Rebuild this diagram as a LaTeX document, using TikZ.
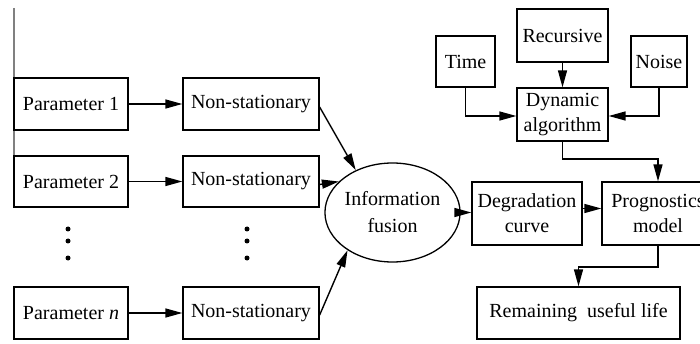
\documentclass[tikz,border=0pt]{standalone}
\usepackage{fontspec}
\setmainfont{Liberation Serif}
\usetikzlibrary{arrows.meta,shapes.geometric,calc}
\begin{document}
\begin{tikzpicture}[x=1pt,y=-1pt,
  box/.style={draw,line width=1.3pt,inner sep=0pt,align=center,font=\fontsize{20}{25}\selectfont},
  arr/.style={line width=1.4pt,-{Triangle[length=17pt,width=9pt]}},
  dotmark/.style={circle,fill,inner sep=0pt,minimum size=5pt}]
\useasboundingbox (0,0) rectangle (700,344);
\clip (0,0) rectangle (700,344);
\draw[gray,line width=1.2pt] (14,8) -- (14,160);
% left column
\node[box,minimum width=114pt,minimum height=52pt] (p1) at (71,104) {Parameter 1};
\node[box,minimum width=114pt,minimum height=51pt] (p2) at (71,181.5) {Parameter 2};
\node[box,minimum width=114pt,minimum height=52pt] (pn) at (71,313) {Parameter \textit{n}};
\node[box,minimum width=136pt,minimum height=52pt] (n1) at (251,104) {Non-stationary};
\node[box,minimum width=136pt,minimum height=51pt] (n2) at (251,181.5) {Non-stationary};
\node[box,minimum width=136pt,minimum height=52pt] (nn) at (251,313) {Non-stationary};
\node[dotmark] (d1) at (68,229) {};
\node[dotmark] (d2) at (68,241) {};
\node[dotmark] (d3) at (68,258) {};
\node[dotmark] (e1) at (247,229) {};
\node[dotmark] (e2) at (247,241) {};
\node[dotmark] (e3) at (247,258) {};
% fusion
\node[box,ellipse,minimum width=113pt,minimum height=99pt,font=\fontsize{20}{27}\selectfont] (fus) at (392.5,212.5) {Information\\fusion};
% right part
\node[box,minimum width=59pt,minimum height=51pt] (time) at (465.5,61.5) {Time};
\node[box,minimum width=91pt,minimum height=53pt] (rec) at (562.5,35.5) {Recursive};
\node[box,minimum width=56pt,minimum height=51pt] (noise) at (659,61.5) {Noise};
\node[box,minimum width=91pt,minimum height=53pt] (dyn) at (562.5,114.5) {Dynamic\\algorithm};
\node[box,minimum width=110pt,minimum height=63pt] (deg) at (527,213.5) {Degradation\\curve};
\node[box,minimum width=112pt,minimum height=63pt] (prog) at (658,213.5) {Prognostics\\model};
\node[box,minimum width=203pt,minimum height=52pt] (rul) at (578.5,313) {Remaining\ \ useful life};
\coordinate (j1) at (0,159);
\coordinate (j2) at (0,267);
% connectors
\draw[arr] (p1.east) -- (n1.west);
\draw[arr] (p2.east) -- (n2.west);
\draw[arr] (pn.east) -- (nn.west);
\draw[arr] ([yshift=-3pt]n1.east) -- (fus.131);
\draw[arr] ([yshift=-3pt]n2.east) -- (fus.150);
\draw[arr] ([yshift=-2pt]nn.east) -- (fus.220);
\draw[arr] (fus.east) -- (fus.east -| deg.west);
\draw[arr] ([yshift=5pt]deg.east) -- ([yshift=5pt]deg.east -| prog.west);
\draw[arr] (rec.south) -- (dyn.north);
\draw[arr] (time.south) |- ([yshift=-1.5pt]dyn.west);
\draw[arr] (noise.south) |- ([yshift=-1.5pt]dyn.east);
\draw[arr] (dyn.south) |- (prog.north |- j1) -- (prog.north);
\draw[arr] (prog.south) |- (rul.north |- j2) -- (rul.north);
\end{tikzpicture}
\end{document}
